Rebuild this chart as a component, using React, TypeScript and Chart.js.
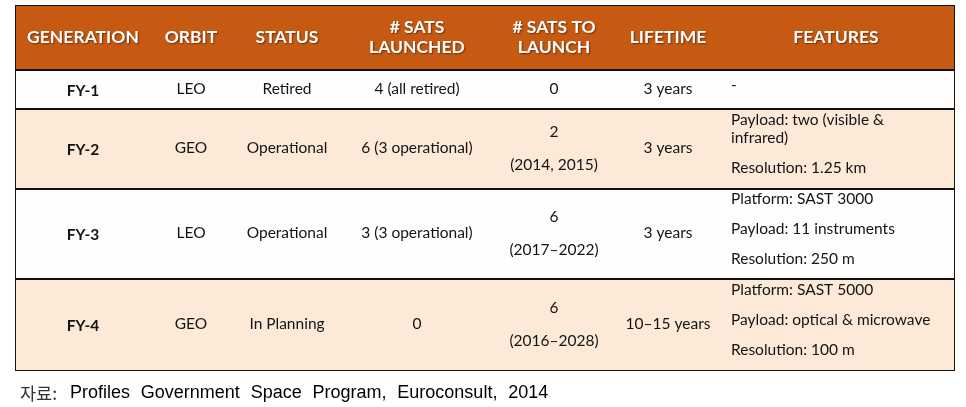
import React, { useEffect, useRef } from "react";
import { Chart, registerables } from "chart.js";

Chart.register(...registerables);

// ---- table content ----
const headers: string[][] = [
  ["GENERATION"],
  ["ORBIT"],
  ["STATUS"],
  ["# SATS", "LAUNCHED"],
  ["# SATS TO", "LAUNCH"],
  ["LIFETIME"],
  ["FEATURES"],
];
const generations = ["FY-1", "FY-2", "FY-3", "FY-4"];
const orbits = ["LEO", "GEO", "LEO", "GEO"];
const statuses = ["Retired", "Operational", "Operational", "In Planning"];
const satsLaunched = ["4 (all retired)", "6 (3 operational)", "3 (3 operational)", "0"];
const satsToLaunch: string[][] = [["0"], ["2", "(2014, 2015)"], ["6", "(2017–2022)"], ["6", "(2016–2028)"]];
const lifetimes = ["3 years", "3 years", "3 years", "10–15 years"];
const features: string[][][] = [
  [["-"]],
  [["Payload: two (visible &", "infrared)"], ["Resolution: 1.25 km"]],
  [["Platform: SAST 3000"], ["Payload: 11 instruments"], ["Resolution: 250 m"]],
  [["Platform: SAST 5000"], ["Payload: optical & microwave"], ["Resolution: 100 m"]],
];
const captionLabel = "자료:";
const captionText = "Profiles Government Space Program, Euroconsult, 2014";

// ---- layout (table units = px) ----
const rowHeights = [65, 39, 80, 90, 92];
const tableWidth = 940;
const colCenters = [68, 176, 272, 402, 539, 653, 821];
const featuresLeft = 716;

const rowBounds: number[] = rowHeights.reduce((acc: number[], h) => {
  acc.push(acc[acc.length - 1] + h);
  return acc;
}, [0]);
const totalHeight = rowBounds[rowBounds.length - 1];
const rowFills = ["#C65A12", "#FFFEFC", "#FCE9D8", "#FFFEFC", "#FCE9D8"];

const BODY_FONT = '15.5px "Lato", "Open Sans", sans-serif';
const BOLD_FONT = 'bold 15.5px "Lato", "Open Sans", sans-serif';
const HEAD_FONT = 'bold 17.5px "Lato", "Open Sans", sans-serif';

const tablePlugin = {
  id: "tableText",
  afterDatasetsDraw(chart: any) {
    const ctx: CanvasRenderingContext2D = chart.ctx;
    const xs = chart.scales.cols;
    const ys = chart.scales.y;
    const px = (v: number) => xs.getPixelForValue(v);
    const py = (v: number) => ys.getPixelForValue(v);
    ctx.save();
    ctx.textBaseline = "middle";

    // header
    const hMid = py((rowBounds[0] + rowBounds[1]) / 2);
    ctx.font = HEAD_FONT;
    ctx.fillStyle = "#FFFFFF";
    ctx.textAlign = "center";
    ctx.shadowColor = "rgba(60,20,0,0.6)";
    ctx.shadowOffsetX = 1;
    ctx.shadowOffsetY = 1;
    ctx.shadowBlur = 1.5;
    headers.forEach((lines, c) => {
      const lh = 20;
      const start = hMid - ((lines.length - 1) * lh) / 2;
      lines.forEach((ln, k) => ctx.fillText(ln, px(colCenters[c]), start + k * lh));
    });
    ctx.shadowColor = "transparent";
    ctx.shadowBlur = 0;
    ctx.shadowOffsetX = 0;
    ctx.shadowOffsetY = 0;

    ctx.fillStyle = "#141414";
    generations.forEach((g, r) => {
      const mid = py((rowBounds[r + 1] + rowBounds[r + 2]) / 2);
      ctx.textAlign = "center";
      ctx.font = BOLD_FONT;
      ctx.fillText(g, px(colCenters[0]), mid + 1);
      ctx.font = BODY_FONT;
      ctx.fillText(orbits[r], px(colCenters[1]), mid - 1);
      ctx.fillText(statuses[r], px(colCenters[2]), mid - 1);
      ctx.fillText(satsLaunched[r], px(colCenters[3]), mid - 1);
      const tl = satsToLaunch[r];
      const tlh = 33;
      const tStart = mid - ((tl.length - 1) * tlh) / 2 - 1;
      tl.forEach((ln, k) => ctx.fillText(ln, px(colCenters[4]), tStart + k * tlh));
      ctx.fillText(lifetimes[r], px(colCenters[5]), mid - 1);

      // features
      ctx.textAlign = "left";
      const paras = features[r];
      const wrapLh = 18;
      const paraLh = 30;
      const ys2: number[] = [];
      let y = 0;
      paras.forEach((p, pi) => {
        if (pi > 0) y += paraLh;
        p.forEach((_, li) => {
          if (li > 0) y += wrapLh;
          ys2.push(y);
        });
      });
      const span = ys2[ys2.length - 1];
      const fStart = mid - span / 2 - 5;
      let idx = 0;
      paras.forEach((p) =>
        p.forEach((ln) => {
          ctx.fillText(ln, px(featuresLeft), fStart + ys2[idx]);
          idx++;
        })
      );
    });
    ctx.restore();
  },
  afterDraw(chart: any) {
    const ctx: CanvasRenderingContext2D = chart.ctx;
    const y = chart.chartArea.bottom + 22;
    ctx.save();
    ctx.textBaseline = "middle";
    ctx.textAlign = "left";
    ctx.font = '17.5px "Noto Sans CJK KR", sans-serif';
    ctx.fillStyle = "#333333";
    ctx.fillText(captionLabel, 20, y);
    ctx.font = '18px "Liberation Sans", Arial, sans-serif';
    ctx.fillStyle = "#000000";
    (ctx as any).wordSpacing = "5.8px";
    ctx.fillText(captionText, 70, y);
    ctx.restore();
  },
};

export default function App() {
  const ref = useRef<HTMLCanvasElement | null>(null);
  useEffect(() => {
    if (!ref.current) return;
    const datasets = rowHeights.map((_, i) => ({
      data: [[rowBounds[i], rowBounds[i + 1]]],
      backgroundColor: rowFills[i],
      borderColor: "#111111",
      borderWidth: 1.3,
      borderSkipped: false,
      grouped: false,
      barPercentage: 1,
      categoryPercentage: 1,
    }));
    const chart = new Chart(ref.current, {
      type: "bar",
      data: { labels: ["table"], datasets: datasets as any },
      options: {
        animation: false,
        responsive: false,
        events: [],
        layout: { padding: { left: 15, right: 11, top: 5, bottom: 36 } },
        plugins: { legend: { display: false }, tooltip: { enabled: false }, title: { display: false } },
        scales: {
          x: { display: false, offset: true, grid: { display: false } },
          cols: {
            type: "linear",
            axis: "x",
            position: "bottom",
            display: false,
            offset: false,
            grace: 0,
            bounds: "data",
            min: 0,
            max: tableWidth,
          },
          y: { type: "linear", display: false, reverse: true, min: 0, max: totalHeight },
        },
      } as any,
      plugins: [tablePlugin],
    });
    return () => chart.destroy();
  }, []);
  return (
    <div style={{ position: "fixed", left: 0, top: 0, width: 966, height: 407, background: "#fff" }}>
      <canvas ref={ref} width={966} height={407} style={{ display: "block" }} />
    </div>
  );
}
